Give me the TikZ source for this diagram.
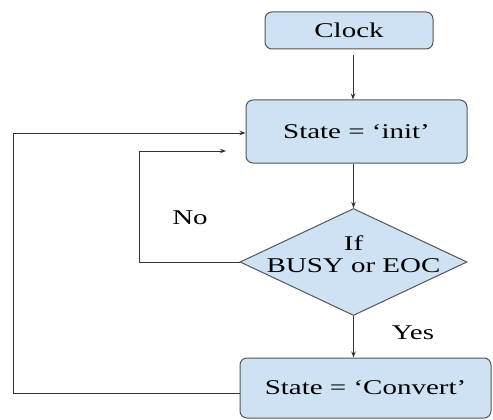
\documentclass[tikz,border=0pt]{standalone}
\usepackage{fontspec}
\setmainfont{Liberation Serif}
\usetikzlibrary{shapes.geometric,arrows.meta}
\definecolor{boxfill}{HTML}{CFE2F3}
\definecolor{boxline}{HTML}{555555}
\newcommand\widetext[1]{\scalebox{1.38}[1]{#1}}
\begin{document}
\begin{tikzpicture}[x=1pt,y=-1pt,
  every node/.style={font=\fontsize{21}{23}\selectfont, inner sep=0pt},
  stepbox/.style={draw=boxline, fill=boxfill, line width=1pt, rounded corners=7pt, align=center},
  decision/.style={draw=boxline, fill=boxfill, line width=1pt, diamond, inner sep=0pt},
  flow/.style={draw=black!80, line width=1pt, -{Stealth[length=6pt,width=4.5pt]}}]
\useasboundingbox (0,0) rectangle (493,420);

\node[stepbox, minimum width=168pt, minimum height=37pt] (clock) at (349,30.5) {\widetext{Clock}};
\node[stepbox, minimum width=221pt, minimum height=63pt] (init) at (356.5,131.5) {\widetext{State = ‘init’}};
\node[decision, minimum width=227pt, minimum height=107pt] (dec) at (353.5,262) {};
\node[align=center] (dectext) at (353.5,254) {\widetext{If}\\[-1pt]\widetext{BUSY or EOC}};
\node[stepbox, minimum width=251pt, minimum height=60pt] (conv) at (365.5,388) {\widetext{State = ‘Convert’}};

\node (no) at (190,218) {\widetext{No}};
\node (yes) at (413,333) {\widetext{Yes}};

\coordinate (innerend) at (226,151);

\draw[flow] (clock.south -| 353,0) ++(0,6) -- (init.north -| 353,0);
\draw[flow] (init.south -| dec.north) -- (dec.north);
\draw[flow] (dec.south) -- (dec.south |- conv.north);
\draw[flow] (dec.west) -- (139,262) -- (139,151) -- (innerend);
\draw[flow] (conv.west |- 0,393) -- (13,393) -- (13,133) -- (init.west |- 0,133);
\end{tikzpicture}
\end{document}
